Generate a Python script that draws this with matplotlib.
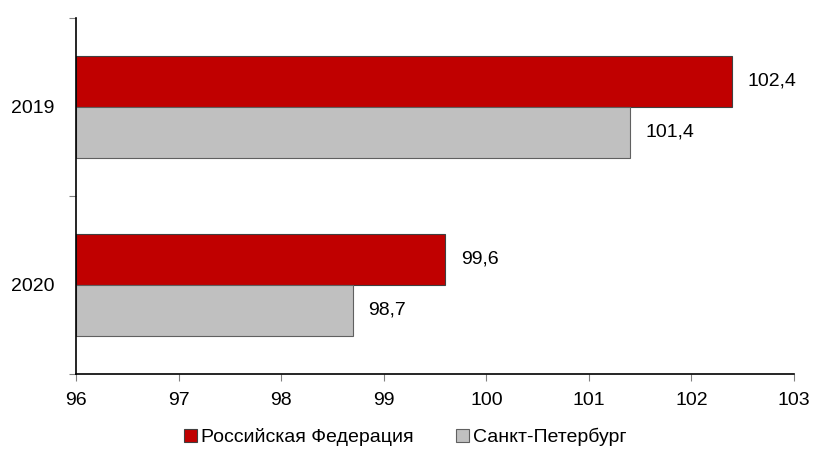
import numpy as np
import matplotlib.pyplot as plt
from matplotlib.patches import Patch

plt.rcParams['font.family'] = ['Liberation Sans', 'DejaVu Sans']

years = ['2019', '2020']
rf_values = [102.4, 99.6]
spb_values = [101.4, 98.7]
series_names = ['Российская Федерация', 'Санкт-Петербург']

red = '#C00000'
gray = '#C0C0C0'
fs = 14

fig = plt.figure(figsize=(8.15, 4.75), dpi=100)
ax = fig.add_axes([0.0936, 0.2135, 0.8806, 0.7485])

pos = np.array([1, 0])
h = 0.287
base = 96
ax.barh(pos + h / 2, np.array(rf_values) - base, left=base, height=h,
        color=red, edgecolor='#404040', linewidth=0.8)
ax.barh(pos - h / 2, np.array(spb_values) - base, left=base, height=h,
        color=gray, edgecolor='#606060', linewidth=0.8)

def fmt(v):
    return f'{v:.1f}'.replace('.', ',')

for p, v in zip(pos, rf_values):
    ax.text(v + 0.15, p + h / 2, fmt(v), va='center', ha='left', fontsize=fs)
for p, v in zip(pos, spb_values):
    ax.text(v + 0.15, p - h / 2, fmt(v), va='center', ha='left', fontsize=fs)

ax.set_xlim(96, 103)
ax.set_ylim(-0.5, 1.5)
ax.set_xticks(range(96, 104))
ax.tick_params(axis='x', labelsize=fs, length=5, color='#808080', pad=8)

ax.set_yticks([-0.5, 0.5, 1.5])
ax.set_yticklabels([])
ax.set_yticks(pos, minor=True)
ax.set_yticklabels(years, minor=True)
ax.tick_params(axis='y', which='major', length=5, color='#808080')
ax.tick_params(axis='y', which='minor', length=0, labelsize=fs, pad=16)

for s in ['top', 'right']:
    ax.spines[s].set_visible(False)
for s in ['left', 'bottom']:
    ax.spines[s].set_linewidth(1.2)

handles = [Patch(facecolor=red, edgecolor='#404040', linewidth=0.8),
           Patch(facecolor=gray, edgecolor='#606060', linewidth=0.8)]
fig.legend(handles, series_names, loc='center', bbox_to_anchor=(0.497, 0.08),
           ncol=2, frameon=False, fontsize=fs, handlelength=0.65,
           handleheight=0.65, handletextpad=0.2, columnspacing=2.2)

fig.savefig('out.png', dpi=100)
